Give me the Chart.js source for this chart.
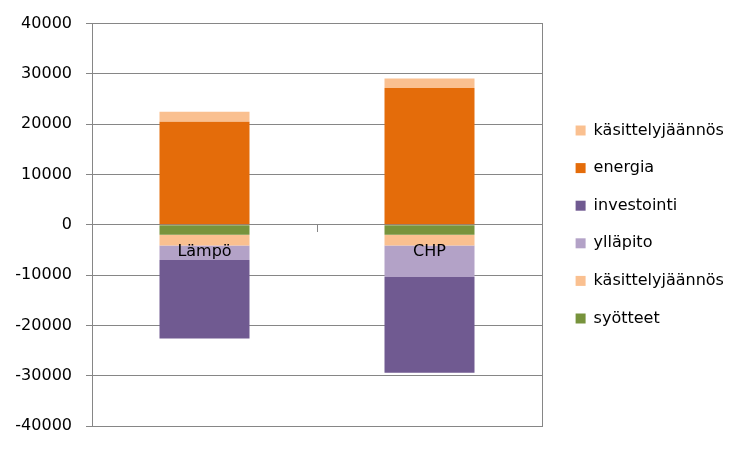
<!DOCTYPE html>
<html>
<head>
<meta charset="utf-8">
<script src="https://cdn.jsdelivr.net/npm/chart.js@4"></script>
<style>
  html, body { margin: 0; padding: 0; background: #fff; }
  #wrap { width: 750px; height: 450px; position: relative; }
</style>
</head>
<body>
<div id="wrap"><canvas id="c"></canvas></div>
<script>
// Data
const categories = ['Lämpö', 'CHP'];
const syotteet = [-2000, -2000];
const kasittelyNeg = [-2100, -2100];
const yllapito = [-2900, -6300];
const investointi = [-15600, -19000];
const energia = [20500, 27200];
const kasittelyPos = [2000, 1900];
const yTicks = { min: -40000, max: 40000, step: 10000 };

const FONT = '"DejaVu Sans", sans-serif';
const FSIZE = 16;
const GRID = '#868686';

const legendWidthPlugin = {
  id: 'legendWidth',
  afterInit(chart) {
    const lg = chart.legend;
    if (!lg) return;
    const f = lg.fit;
    lg.fit = function () { f.call(this); this.width = 196; };
  }
};

new Chart(document.getElementById('c'), {
  type: 'bar',
  data: {
    labels: categories,
    datasets: [
      { label: 'syötteet', data: syotteet, backgroundColor: '#77933C' },
      { label: 'käsittelyjäännös', data: kasittelyNeg, backgroundColor: '#FAC090' },
      { label: 'ylläpito', data: yllapito, backgroundColor: '#B3A2C7' },
      { label: 'investointi', data: investointi, backgroundColor: '#705A91' },
      { label: 'energia', data: energia, backgroundColor: '#E46C0A' },
      { label: 'käsittelyjäännös', data: kasittelyPos, backgroundColor: '#FAC090' }
    ]
  },
  options: {
    responsive: true,
    maintainAspectRatio: false,
    animation: false,
    layout: { padding: { left: 0, right: 0, top: 23, bottom: 24 } },
    datasets: { bar: { categoryPercentage: 1.0, barPercentage: 0.4, borderWidth: 0 } },
    plugins: {
      legend: {
        position: 'right',
        reverse: true,
        labels: {
          boxWidth: 10, boxHeight: 10, padding: 21.6,
          color: '#000',
          font: { family: FONT, size: FSIZE }
        }
      },
      tooltip: { enabled: false }
    },
    scales: {
      x: {
        stacked: true,
        position: { y: 0 },
        offset: true,
        grid: { display: true, drawOnChartArea: false, drawTicks: true, tickLength: 7, offset: true, color: GRID },
        border: { display: false },
        ticks: { z: 1, color: '#000', padding: 10, font: { family: FONT, size: FSIZE } }
      },
      y: {
        stacked: true,
        position: 'left',
        min: yTicks.min, max: yTicks.max,
        afterFit(s) { s.width = 92; },
        grid: { color: GRID, tickLength: 6, drawTicks: true },
        border: { display: true, color: GRID },
        ticks: {
          stepSize: yTicks.step, color: '#000', padding: 14,
          font: { family: FONT, size: FSIZE },
          callback: (v) => String(v)
        }
      },
      y2: {
        position: 'right',
        min: yTicks.min, max: yTicks.max,
        afterFit(s) { s.width = 12; },
        grid: { display: false, drawTicks: false },
        border: { display: true, color: GRID },
        ticks: { display: false }
      }
    }
  },
  plugins: [legendWidthPlugin]
});
</script>
</body>
</html>
